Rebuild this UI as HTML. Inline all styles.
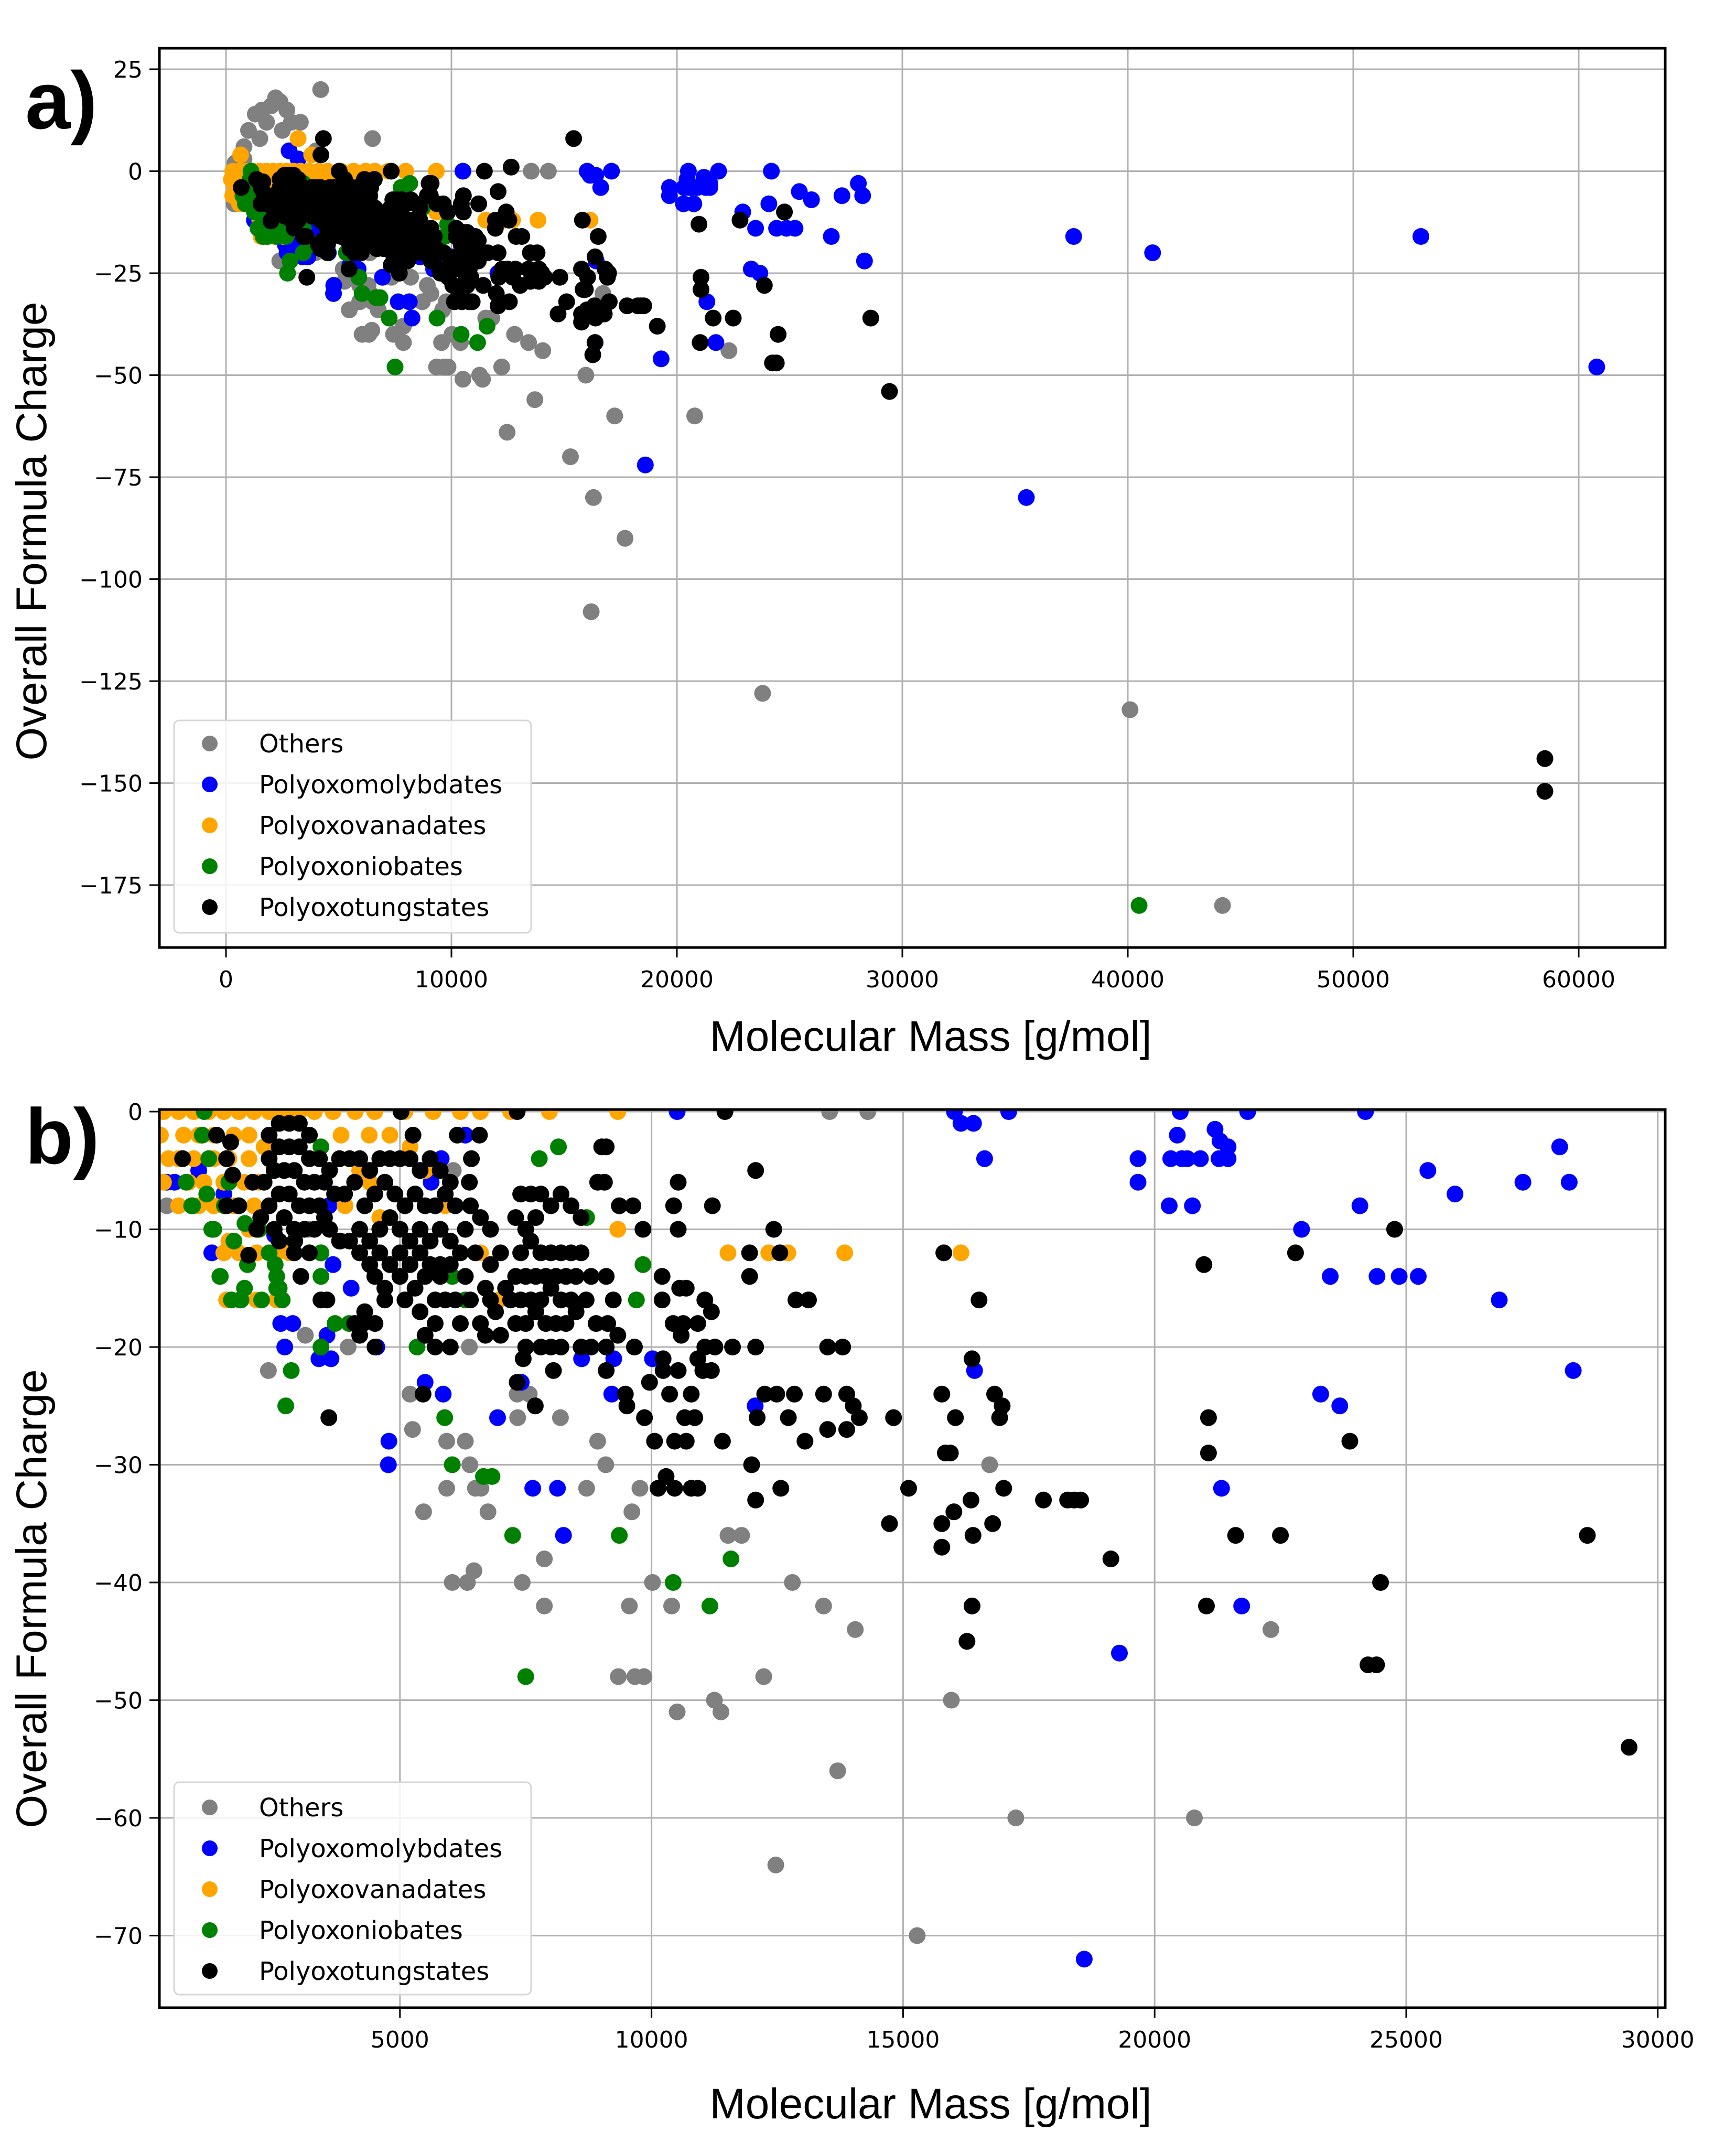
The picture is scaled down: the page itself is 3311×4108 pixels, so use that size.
<!DOCTYPE html>
<html><head><meta charset="utf-8"><style>
html,body{margin:0;padding:0;background:#fff;width:3311px;height:4108px;overflow:hidden}
svg{display:block}
</style></head><body>
<svg id="fig" width="3311" height="4108" viewBox="0 0 3311 4108" xmlns="http://www.w3.org/2000/svg">
<defs>
<clipPath id="clipA"><rect x="304" y="92" width="2872" height="1715"/></clipPath>
<clipPath id="clipB"><rect x="304" y="2116" width="2872" height="1713"/></clipPath>
</defs>
<rect width="3311" height="4108" fill="#fff"/>
<text x="48" y="245" font-family="Liberation Sans, sans-serif" font-weight="bold" font-size="155">a)</text>
<text x="48" y="2219" font-family="Liberation Sans, sans-serif" font-weight="bold" font-size="150">b)</text>
<g id="panelA"></g>
<g id="panelB"></g>
</svg>
<script>
const ticksAX=[0,10000,20000,30000,40000,50000,60000];
const ticksAY=[25,0,-25,-50,-75,-100,-125,-150,-175];
const ticksBX=[5000,10000,15000,20000,25000,30000];
const ticksBY=[0,-10,-20,-30,-40,-50,-60,-70];
const categories=["Others","Polyoxomolybdates","Polyoxovanadates","Polyoxoniobates","Polyoxotungstates"];
const colors=["#808080","#0000ff","#ffa500","#008000","#000000"];
const others=[[365,-8],[2385,-22],[3120,-19],[5200,-24],[5250,-27],[5470,-34],[5930,-28],[5930,-32],[6040,-40],[6340,-40],[6470,-39],[6390,-30],[6750,-34],[6610,-32],[7340,-26],[7430,-40],[7570,-24],[7870,-38],[7870,-42],[8190,-26],[8710,-32],[8930,-28],[9090,-30],[9340,-48],[9670,-48],[9850,-48],[9610,-34],[9770,-32],[9560,-42],[10020,-40],[10400,-42],[10510,-51],[11250,-50],[11380,-51],[11520,-36],[11790,-36],[12230,-48],[12470,-64],[12800,-40],[13420,-42],[13700,-56],[14050,-44],[15280,-70],[15960,-50],[16720,-30],[17240,-60],[20790,-60],[22310,-44],[13540,0],[14300,0],[16200,-108],[17700,-90],[16300,-80],[23800,-128],[40100,-132],[44200,-180],[3970,-20],[6300,-28],[6500,-32],[6060,-5],[3190,-10],[3830,-11],[6380,-20],[7330,-24],[400,2],[800,6],[1000,10],[1300,14],[1600,15],[2000,16],[2200,18],[2400,17],[2700,15],[2900,12],[4200,20],[6500,8],[1500,8],[2500,10],[3300,12],[1800,12],[800,3],[4000,5]];
const molybdates=[[365,-6],[520,-6],[1260,-12],[2630,-18],[2870,-18],[2710,-20],[3390,-21],[3630,-21],[3550,-19],[4030,-15],[3670,-13],[3430,-12],[3590,-8],[2510,-10.5],[5820,-4],[5620,-6],[4780,-28],[4770,-30],[5500,-23],[5860,-24],[6940,-26],[7640,-32],[8130,-32],[8250,-36],[8610,-21],[9210,-24],[9250,-21],[7410,-23],[4540,-20],[6300,-2],[10020,-21],[10510,0],[12060,-25],[16420,-22],[16020,0],[16150,-1],[16400,-1],[17100,0],[16620,-4],[20510,0],[21850,0],[24190,0],[20450,-2],[21200,-1.5],[21300,-2.5],[21460,-3],[20320,-4],[20540,-4],[20650,-4],[20910,-4],[21280,-4],[21460,-4],[19670,-4],[19670,-6],[20290,-8],[20750,-8],[24080,-8],[22920,-10],[23490,-14],[24420,-14],[24860,-14],[25240,-14],[25430,-5],[25970,-7],[26850,-16],[27320,-6],[28050,-3],[28240,-6],[28320,-22],[23300,-24],[23680,-25],[21330,-32],[21730,-42],[16370,-42],[19300,-46],[18600,-72],[37600,-16],[41100,-20],[53000,-16],[60800,-48],[35500,-80],[2800,5],[3200,3],[1000,-5],[1500,-7]];
const vanadates=[[300,0],[600,0],[900,0],[1200,0],[1500,0],[1800,0],[2100,0],[2400,0],[2700,0],[3000,0],[3300,0],[3670,0],[4110,0],[4500,0],[5100,0],[5660,0],[6200,0],[6600,0],[7200,0],[7970,0],[9330,0],[240,-2],[700,-2],[1000,-2],[1300,-2],[1700,-2],[2000,-2],[2300,-3],[3830,-2],[4390,-2],[4800,-2],[5200,-3],[400,-4],[600,-4],[900,-4],[1300,-4],[1600,-4],[2000,-4],[3800,-4],[4200,-5],[5500,-5],[300,-6],[800,-6],[1100,-6],[1500,-6],[1900,-6],[2200,-6],[4400,-6],[600,-8],[1000,-8],[1300,-8],[1700,-8],[2100,-8],[3910,-8],[5900,-8],[4600,-9],[1300,-10],[2000,-10],[1600,-11],[2153,-12],[2550,-12],[2800,-12],[3200,-12],[1500,-12],[1800,-12],[1555,-16],[2150,-16],[2550,-16],[6970,-16],[6600,-12],[9330,-10],[11520,-12],[12330,-12],[12710,-12],[13840,-12],[16150,-12],[3200,8],[650,4],[3800,4]];
const niobates=[[750,-6],[1160,-7],[880,-8],[1300,-10],[1430,-14],[1650,-16],[1840,-16],[1970,-13],[1700,-11],[1510,-8],[1920,-9.5],[2520,-13],[2600,-15],[2660,-16],[2840,-22],[2730,-25],[3430,-20],[3710,-18],[3990,-18],[3430,-14],[2550,-14],[2550,-15],[1820,-16],[2250,-16],[1420,-14],[1260,-10],[860,-8],[1070,-2],[1110,0],[3430,-12],[3430,-3],[6040,-14],[6300,-16],[7770,-4],[8150,-3],[8710,-9],[1910,-15],[5340,-20],[5890,-26],[6040,-30],[6660,-31],[6830,-31],[11580,-38],[10430,-40],[11160,-42],[7500,-48],[9830,-13],[9700,-16],[9360,-36],[7240,-36],[40500,-180],[1200,-4],[1600,-6],[2200,-10],[2400,-12],[1800,-8]];
const tungstates=[[680,-4],[1356,-2],[1635,-2.6],[1555,-4],[1675,-5.4],[1555,-8],[1795,-8],[1994,-12.2],[2073,-6],[2153,-10],[2233,-9],[2910,-11],[3030,-14],[3430,-16],[3548,-16],[4265,-18],[4504,-18],[4504,-20],[3587,-26],[5022,0],[5260,-2],[6140,-2],[6580,-2],[6420,-4],[6380,-6],[5460,-24],[9010,-3],[8930,-6],[8050,-22],[7690,-25],[7450,-21],[7330,-23],
[2400,-2],[2600,-1],[2800,-1],[3000,-1],[3200,-2],[2400,-4],[2600,-3],[2800,-3],[3000,-3],[3200,-4],[3400,-4],[2300,-6],[2500,-5],[2700,-5],[2900,-5],[3100,-6],[3300,-6],[3500,-6],[2400,-8],[2600,-7],[2800,-7],[3000,-8],[3200,-8],[3400,-8],[2500,-10],[2700,-9],[2900,-10],[3100,-10],[3300,-10],[2600,-11],[2900,-12],[3200,-12],[3500,-9],[3600,-10],[3600,-5],[3700,-7],
[3800,-4],[4000,-4],[4200,-4],[4400,-5],[4600,-4],[4800,-4],[5000,-4],[5200,-4],[5400,-5],[5600,-4],[5800,-5],[6000,-6],[3900,-7],[4100,-6],[4300,-8],[4500,-7],[4700,-6],[4900,-7],[5100,-8],[5300,-7],[5500,-8],[5700,-8],[5900,-7],[6100,-8],[3800,-11],[4000,-11],[4200,-10],[4400,-11],[4600,-10],[4800,-9],[5000,-10],[5200,-11],[5400,-10],[5600,-11],[5800,-10],[6000,-11],[6300,-10],[6400,-8],[4200,-12],[4400,-13],[4600,-12],[4800,-13],[5000,-12],[5200,-13],[5400,-12],[5600,-13],[5800,-13],[6000,-13],[6200,-12],[4500,-14],[4700,-15],[5000,-14],[5300,-15],[5500,-14],[5800,-14],[6300,-14],[4700,-16],[5100,-16],[5400,-17],[5700,-16],[5900,-16],[6100,-16],[6400,-16],[6800,-16],[6600,-18],[6200,-18],[5700,-18],[4300,-17],[4100,-18],[4200,-19],[5500,-19],[5700,-20],[6000,-20],
[7400,-7],[7600,-7],[7800,-7],[8000,-8],[8200,-7],[8400,-8],[8600,-9],[7300,-9],[7500,-10],[7700,-9],[7400,-12],[7600,-11],[7800,-12],[8000,-12],[8200,-12],[8400,-12],[8600,-12],[8800,-14],[7300,-14],[7500,-14],[7700,-14],[7900,-14],[8100,-14],[8300,-14],[8500,-14],[7200,-16],[7400,-16],[7600,-16],[7800,-16],[8000,-15],[8200,-16],[8400,-16],[8700,-16],[7300,-18],[7500,-18],[7700,-17],[7900,-18],[8100,-18],[8300,-18],[8500,-17],[8900,-18],[6900,-17],[6700,-19],[7000,-19],[7500,-20],[7800,-20],[8000,-20],[8200,-20],[8600,-20],[8800,-20],[6600,-9],[6800,-10],[7000,-12],[6800,-13],[6700,-15],[7100,-15],[6500,-12],
[11460,0],[9100,-3],[12070,-5],[10530,-6],[9064,-6],[9360,-8],[9630,-8],[10440,-8],[11210,-8],[9830,-10],[10530,-10],[12430,-10],[11950,-12],[12550,-12],[15810,-12],[9100,-14],[10210,-14],[11950,-14],[9240,-16],[10210,-16],[10560,-15],[10690,-15],[11060,-16],[11190,-17],[12870,-16],[13120,-16],[16510,-16],[9130,-18],[10430,-18],[10630,-18],[10920,-18],[10590,-19],[9330,-19],[9100,-20],[9660,-20],[11060,-20],[11260,-20],[11610,-20],[12070,-20],[13500,-20],[13800,-20],[10230,-21],[10920,-21],[16370,-21],[9100,-22],[10230,-22],[10530,-22],[11020,-22],[11190,-22],[9960,-23],[9480,-24],[10360,-24],[10790,-24],[12250,-24],[12490,-24],[12840,-24],[13420,-24],[13880,-24],[15770,-24],[16820,-24],[9510,-25],[14010,-25],[16970,-25],[9860,-26],[10660,-26],[10860,-26],[12100,-26],[12720,-26],[14130,-26],[14810,-26],[16040,-26],[16920,-26],[13500,-27],[13880,-27],[10060,-28],[10460,-28],[10690,-28],[11410,-28],[13050,-28],[15840,-29],[15940,-29],[11990,-30],[10290,-31],[10130,-32],[10460,-32],[10790,-32],[10920,-32],[12570,-32],[15110,-32],[17000,-32],[12070,-33],[16350,-33],[17790,-33],[18270,-33],[18400,-33],[18530,-33],[16010,-34],[15770,-35],[14730,-35],[16780,-35],[16390,-36],[15770,-37],[19130,-38],[16370,-42],
[24770,-10],[20980,-13],[22800,-12],[21070,-26],[21070,-29],[23880,-28],[21610,-36],[22500,-36],[28600,-36],[24490,-40],[21030,-42],[24240,-47],[24410,-47],[16270,-45],[29430,-54],[58500,-144],[58500,-152],[15420,8],[4320,8],[4210,4],[12650,1],[7330,0]];
const seriesList=[others,molybdates,vanadates,niobates,tungstates];
const seriesNames=["others","polyoxomolybdates","polyoxovanadates","polyoxoniobates","polyoxotungstates"];

const NS="http://www.w3.org/2000/svg";
function mk(tag,attrs,parent){const e=document.createElementNS(NS,tag);for(const k in attrs)e.setAttribute(k,attrs[k]);parent.appendChild(e);return e;}
const TICKFONT="DejaVu Sans, sans-serif";
const TITLEFONT="Liberation Sans, Arial, sans-serif";
function fmt(v){return v<0?"\u2212"+Math.abs(v):String(v);}

function drawPanel(g,cfg){
  const L=304,R=3176;
  const xs=v=>cfg.x0+v*cfg.xk, ys=v=>cfg.y0-v*cfg.yk;
  const grid=mk('g',{},g);
  
  
  cfg.tx.forEach(t=>{const x=xs(t);
    const l=mk('line',{x1:x,x2:x,y1:cfg.T,y2:cfg.B,stroke:'#b0b0b0','stroke-width':3},grid);
    
    const tk=mk('line',{x1:x,x2:x,y1:cfg.B,y2:cfg.B+19,stroke:'#000','stroke-width':3},g);
    
    const tl=mk('text',{x:x,y:cfg.B+76,'text-anchor':'middle','font-family':TICKFONT,'font-size':44,fill:'#000'},g);
    
    tl.textContent=fmt(t);});
  cfg.ty.forEach(t=>{const y=ys(t);
    const l=mk('line',{x1:L,x2:R,y1:y,y2:y,stroke:'#b0b0b0','stroke-width':3},grid);
    
    const tk=mk('line',{x1:L-19,x2:L,y1:y,y2:y,stroke:'#000','stroke-width':3},g);
    
    const tl=mk('text',{x:L-32,y:y+16,'text-anchor':'end','font-family':TICKFONT,'font-size':44,fill:'#000'},g);
    
    tl.textContent=fmt(t);});
  const pts=mk('g',{'clip-path':'url(#'+cfg.clip+')'},g);
  
  
  seriesList.forEach((s,i)=>{
    const sg=mk('g',{fill:colors[i]},pts);
    
    
    s.forEach(p=>{const cx=xs(p[0]),cy=ys(p[1]);
      if(cx<L-cfg.r||cx>R+cfg.r||cy<cfg.T-cfg.r||cy>cfg.B+cfg.r) return;
      const c=mk('circle',{cx:cx.toFixed(1),cy:cy.toFixed(1),r:cfg.r},sg);
      
      });
  });
  const fr=mk('rect',{x:L,y:cfg.T,width:R-L,height:cfg.B-cfg.T,fill:'none',stroke:'#000','stroke-width':5},g);
  
  const lg=mk('g',{},g);
  
  
  mk('rect',{x:332,y:cfg.legTop,width:681,height:405,rx:10,fill:'#fff','fill-opacity':0.85,stroke:'#d6d6d6','stroke-width':3},lg);
  categories.forEach((c,i)=>{const y=cfg.legRow0+i*78;
    const e=mk('g',{},lg);
    
    
    mk('circle',{cx:400,cy:y,r:15,fill:colors[i]},e);
    const t=mk('text',{x:494,y:y+17,'font-family':TICKFONT,'font-size':48,fill:'#000'},e);
    t.textContent=c;});
  const xt=mk('text',{x:1775,y:cfg.xTitleY,'text-anchor':'middle','font-family':TITLEFONT,'font-size':82,fill:'#000'},g);
  
  xt.textContent='Molecular Mass [g/mol]';
  const yt=mk('text',{x:0,y:0,'text-anchor':'middle','font-family':TITLEFONT,'font-size':82,fill:'#000',transform:'translate(88,'+cfg.yTitleC+') rotate(-90)'},g);
  
  yt.textContent='Overall Formula Charge';
}
drawPanel(document.getElementById('panelA'),{x0:431,xk:0.043,y0:326.5,yk:7.78,T:92,B:1807,tx:ticksAX,ty:ticksAY,clip:'clipA',r:16,legTop:1374,legRow0:1418,xTitleY:2004,yTitleC:1013});
drawPanel(document.getElementById('panelB'),{x0:283,xk:0.09596,y0:2120,yk:22.45,T:2116,B:3829,tx:ticksBX,ty:ticksBY,clip:'clipB',r:16,legTop:3399,legRow0:3447,xTitleY:4040,yTitleC:3049});
</script>
</body></html>
